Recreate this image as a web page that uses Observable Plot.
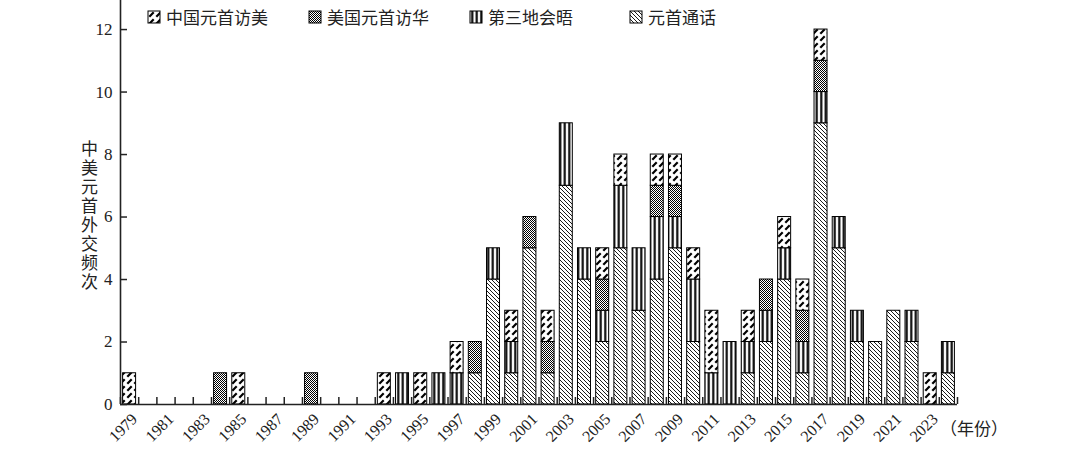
<!DOCTYPE html>
<html><head><meta charset="utf-8">
<script src="https://cdn.jsdelivr.net/npm/d3@7"></script>
<script src="https://cdn.jsdelivr.net/npm/@observablehq/plot@0.6"></script>
<style>
body{margin:0;background:#fff;}
#wrap{position:relative;width:1080px;height:459px;overflow:hidden;}
#legend{position:absolute;top:4px;left:148px;}
#legend .lg-swatches{font-family:"Noto Sans CJK SC",sans-serif;font-size:17px;color:#222;margin:0;min-height:20px;}
#legend .lg-swatch{margin-right:41px;}
#legend .lg-swatch:nth-of-type(3){margin-right:57px;}
#legend .lg-swatch > svg{margin-right:6px;}
#legend .lg-swatch svg rect{stroke:#000;stroke-width:1;}
#ylabel{position:absolute;left:77px;top:140px;writing-mode:vertical-rl;text-orientation:upright;font-family:"Noto Sans CJK SC",sans-serif;font-size:17px;letter-spacing:2px;color:#222;}
#xunit{position:absolute;left:940px;top:415px;font-family:"Noto Sans CJK SC",sans-serif;font-size:17px;color:#222;}
</style></head><body>
<svg width="0" height="0" style="position:absolute">
<defs>
<pattern id="pChina" patternUnits="userSpaceOnUse" width="7" height="7">
<rect width="7" height="7" fill="#fff"/>
<path d="M1.3,5.7L5.7,1.3" stroke="#000" stroke-width="2.2"/>
</pattern>
<pattern id="pUS" patternUnits="userSpaceOnUse" width="2" height="2">
<rect width="2" height="2" fill="#fff"/>
<rect x="0" y="0" width="1" height="1" fill="#000"/>
<rect x="1" y="1" width="1" height="1" fill="#000"/>
</pattern>
<pattern id="pThird" patternUnits="userSpaceOnUse" width="4.5" height="10">
<rect width="4.5" height="10" fill="#fff"/>
<rect x="1.2" y="0" width="2.1" height="10" fill="#000"/>
</pattern>
<pattern id="pCall" patternUnits="userSpaceOnUse" width="4" height="4">
<rect width="4" height="4" fill="#fff"/>
<path d="M0,0L4,4M-1,3L1,5M3,-1L5,1" stroke="#000" stroke-width="0.9"/>
</pattern>
</defs>
</svg>
<div id="wrap">
<div id="chart"></div>
<div id="legend"></div>
<div id="ylabel">中美元首外交频次</div>
<div id="xunit">（年份）</div>
</div>
<script>
const years = [1979,1980,1981,1982,1983,1984,1985,1986,1987,1988,1989,1990,1991,1992,1993,1994,1995,1996,1997,1998,1999,2000,2001,2002,2003,2004,2005,2006,2007,2008,2009,2010,2011,2012,2013,2014,2015,2016,2017,2018,2019,2020,2021,2022,2023,2024];
// 元首通话
const calls      = [0,0,0,0,0,0,0,0,0,0, 0,0,0,0,0,0,0,0,0,1, 4,1,5,1,7,4,2,5,3,4, 5,2,0,0,1,2,4,1,9,5, 2,2,3,2,0,1];
// 第三地会晤
const thirdPlace = [0,0,0,0,0,0,0,0,0,0, 0,0,0,0,0,1,0,1,1,0, 1,1,0,0,2,1,1,2,2,2, 1,2,1,2,1,1,1,1,1,1, 1,0,0,1,0,1];
// 美国元首访华
const usVisits   = [0,0,0,0,0,1,0,0,0,0, 1,0,0,0,0,0,0,0,0,1, 0,0,1,1,0,0,1,0,0,1, 1,0,0,0,0,1,0,1,1,0, 0,0,0,0,0,0];
// 中国元首访美
const cnVisits   = [1,0,0,0,0,0,1,0,0,0, 0,0,0,0,1,0,1,0,1,0, 0,1,0,1,0,0,1,1,0,1, 1,1,2,0,1,0,1,1,1,0, 0,0,0,0,1,0];

const stackTypes = ["元首通话","第三地会晤","美国元首访华","中国元首访美"];
const stackFills = ["url(#pCall)","url(#pThird)","url(#pUS)","url(#pChina)"];
const legendTypes = ["中国元首访美","美国元首访华","第三地会晤","元首通话"];
const yTicks = [0,2,4,6,8,10,12];
const labelYears = years.filter(y => y % 2 === 1);

const seriesList = [calls, thirdPlace, usVisits, cnVisits];
const data = [];
years.forEach((yr, i) => {
  stackTypes.forEach((t, k) => {
    const v = seriesList[k][i];
    if (v > 0) data.push({year: yr, type: t, count: v});
  });
});
const boundaries = years.concat([years[years.length - 1] + 1]);

const chart = Plot.plot({
  width: 1080, height: 459,
  marginLeft: 120, marginRight: 123, marginTop: 0, marginBottom: 55,
  x: {type: "linear", domain: [years[0], years[years.length - 1] + 1], axis: null, label: null},
  y: {domain: [0, 12.93], axis: null, label: null},
  color: {domain: stackTypes, range: stackFills},
  style: {fontFamily: "'Liberation Serif', serif", fontSize: "16px", color: "#222", background: "transparent"},
  marks: [
    Plot.rectY(data, {x: "year", interval: 1, y: "count", fill: "type", order: stackTypes,
      stroke: "#000", strokeWidth: 1, insetLeft: 2.6, insetRight: 2.6}),
    Plot.ruleY([0], {stroke: "#222", strokeWidth: 1.6}),
    Plot.ruleX([years[0]], {stroke: "#222", strokeWidth: 1.6}),
    Plot.axisY({ticks: yTicks, tickSize: 7, dx: 7, text: null, label: null, stroke: "#222", strokeWidth: 1.5}),
    Plot.axisY({ticks: yTicks, tickSize: 0, tickPadding: 8, fontSize: 17, label: null}),
    Plot.axisX({ticks: boundaries, tickSize: 7, dy: -7, text: null, label: null, stroke: "#222", strokeWidth: 1.5}),
    Plot.text(labelYears, {x: d => d + 0.5, y: () => 0, text: d => String(d), rotate: -45,
      textAnchor: "end", dx: 5, dy: 12, fontSize: 16, fill: "#222"})
  ]
});
document.getElementById("chart").appendChild(chart);

const legend = Plot.legend({
  color: {domain: legendTypes, range: legendTypes.map(t => stackFills[stackTypes.indexOf(t)])},
  swatchSize: 12, className: "lg"
});
document.getElementById("legend").appendChild(legend);
</script>
</body></html>
